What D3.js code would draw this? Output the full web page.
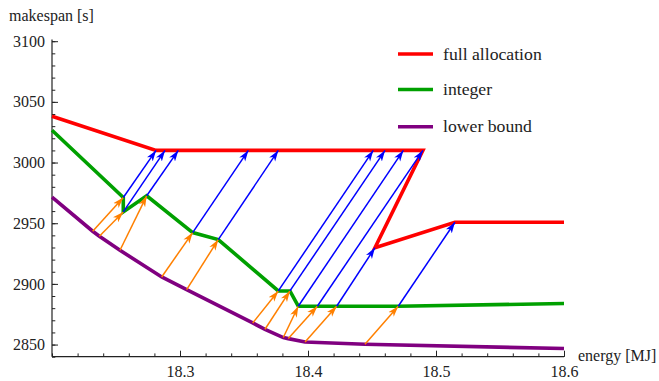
<!DOCTYPE html>
<html>
<head>
<meta charset="utf-8">
<script src="https://cdn.jsdelivr.net/npm/d3@7"></script>
<style>
  html, body { margin: 0; padding: 0; background: #fff; }
  svg { display: block; }
</style>
</head>
<body>
<script>
// ---- data ----
const lowerX   = [18.2, 18.2318, 18.2370, 18.2531, 18.2857, 18.3052, 18.3568, 18.3664, 18.3807, 18.3846, 18.3977, 18.4445, 18.6];
const lowerY   = [2971.6, 2943.4, 2939.3, 2927.7, 2905.7, 2895.3, 2867.8, 2862.6, 2855.8, 2854.9, 2852.1, 2850.2, 2846.7];
const integerX = [18.2, 18.2557, 18.2557, 18.2740, 18.3099, 18.3299, 18.3768, 18.3859, 18.3924, 18.4073, 18.4224, 18.4705, 18.6];
const integerY = [3026.6, 2971.2, 2959.3, 2972.6, 2942.3, 2936.5, 2894.2, 2894.2, 2881.6, 2881.6, 2881.6, 2881.6, 2883.8];
const fullX    = [18.2, 18.2813, 18.2883, 18.2987, 18.3534, 18.3768, 18.4510, 18.4602, 18.4745, 18.4898, 18.4523, 18.5148, 18.6];
const fullY    = [3038.2, 3010, 3010, 3010, 3010, 3010, 3010, 3010, 3010, 3010, 2929.8, 2950.8, 2950.8];

const seriesNames  = ["full allocation", "integer", "lower bound"];
const seriesColors = ["#ff0000", "#00a000", "#800080"];
const xTickLabels  = [18.3, 18.4, 18.5, 18.6];
const yTickLabels  = [2850, 2900, 2950, 3000, 3050, 3100];
const xMinorStep = 0.02, yMinorStep = 10;
const xLabel = "energy [MJ]", yLabel = "makespan [s]";

// ---- layout ----
const W = 659, H = 381;
const FONT = "'Liberation Serif', 'Times New Roman', Tinos, 'DejaVu Serif', serif";
const x = d3.scaleLinear().domain([18.2, 18.6]).range([52, 564]);
const y = d3.scaleLinear().domain([2840, 3100]).range([356.7, 41.2]);

const svg = d3.select("body").append("svg").attr("width", W).attr("height", H)
  .style("font-family", FONT);

const defs = svg.append("defs");
function marker(id, color) {
  defs.append("marker")
    .attr("id", id).attr("markerUnits", "userSpaceOnUse")
    .attr("viewBox", "-11 -4 12 8").attr("refX", 0).attr("refY", 0)
    .attr("markerWidth", 12).attr("markerHeight", 8).attr("orient", "auto")
    .append("path").attr("d", "M0,0 L-11,-3.6 L-8,0 L-11,3.6 Z").attr("fill", color);
}
marker("headBlue", "#0000ff");
marker("headOrange", "#ff8000");

// ---- axes ----
const axisColor = "#222";
const xMinor = d3.range(18.2, 18.6001, xMinorStep).map(v => +v.toFixed(2));
const yMinor = d3.range(2840, 3100.1, yMinorStep);

const gx = svg.append("g").attr("transform", `translate(0,${y(2840)})`)
  .call(d3.axisBottom(x).tickValues(xMinor).tickSize(-3.3).tickFormat(""));
const gx2 = svg.append("g").attr("transform", `translate(0,${y(2840)})`)
  .call(d3.axisBottom(x).tickValues(xTickLabels).tickSize(-6).tickPadding(12).tickFormat(d3.format(".1f")));
const gy = svg.append("g").attr("transform", `translate(${x(18.2)},0)`)
  .call(d3.axisLeft(y).tickValues(yMinor).tickSize(-3.3).tickFormat(""));
const gy2 = svg.append("g").attr("transform", `translate(${x(18.2)},0)`)
  .call(d3.axisLeft(y).tickValues(yTickLabels).tickSize(-6).tickPadding(7).tickFormat(d3.format("d")));

[gx, gx2, gy, gy2].forEach(g => {
  g.attr("font-family", null).style("font-family", FONT);
  g.selectAll(".domain").attr("stroke", axisColor).attr("stroke-width", 1.2);
  g.selectAll(".tick line").attr("stroke", axisColor).attr("stroke-width", 1);
  g.selectAll(".tick text").style("font-family", FONT).attr("font-size", 16).attr("fill", "#222");
});
gx.select(".domain").attr("d", `M${x(18.2)},0H${x(18.6)}`);
gx2.select(".domain").remove();
gy.select(".domain").attr("d", `M0,${y(2840)}V39.5`);
gy2.select(".domain").remove();
gx2.selectAll(".tick text").attr("dy", "0.71em").attr("y", 9);

svg.append("text").attr("x", 9).attr("y", 20.5).attr("font-size", 16).attr("fill", "#222")
  .style("font-family", FONT).text(yLabel);
svg.append("text").attr("x", 578).attr("y", 361).attr("font-size", 16).attr("fill", "#222")
  .style("font-family", FONT).text(xLabel);

// ---- series lines ----
const line = d3.line();
const seriesData = [
  fullX.map((v, i) => [x(v), y(fullY[i])]),
  integerX.map((v, i) => [x(v), y(integerY[i])]),
  lowerX.map((v, i) => [x(v), y(lowerY[i])])
];
[2, 1, 0].forEach(k => {
  svg.append("path").attr("d", line(seriesData[k]))
    .attr("fill", "none").attr("stroke", seriesColors[k])
    .attr("stroke-width", 3.6).attr("stroke-linejoin", "miter").attr("stroke-miterlimit", 3);
});

// ---- arrows ----
const arrows = svg.append("g");
for (let i = 1; i < lowerX.length - 1; i++) {
  arrows.append("line")
    .attr("x1", x(lowerX[i])).attr("y1", y(lowerY[i]))
    .attr("x2", x(integerX[i])).attr("y2", y(integerY[i]))
    .attr("stroke", "#ff8000").attr("stroke-width", 1.5)
    .attr("marker-end", "url(#headOrange)");
}
for (let i = 1; i < integerX.length - 1; i++) {
  arrows.append("line")
    .attr("x1", x(integerX[i])).attr("y1", y(integerY[i]))
    .attr("x2", x(fullX[i])).attr("y2", y(fullY[i]))
    .attr("stroke", "#0000ff").attr("stroke-width", 1.5)
    .attr("marker-end", "url(#headBlue)");
}

// ---- legend ----
const legendY = [54, 89.5, 126.7];
const lg = svg.append("g");
seriesNames.forEach((name, i) => {
  lg.append("line").attr("x1", 398).attr("x2", 433)
    .attr("y1", legendY[i]).attr("y2", legendY[i])
    .attr("stroke", seriesColors[i]).attr("stroke-width", 3.6);
  lg.append("text").attr("x", 443).attr("y", legendY[i] + 5.5)
    .attr("font-size", 17.7).attr("fill", "#222")
    .style("font-family", FONT).text(name);
});
</script>
</body>
</html>
